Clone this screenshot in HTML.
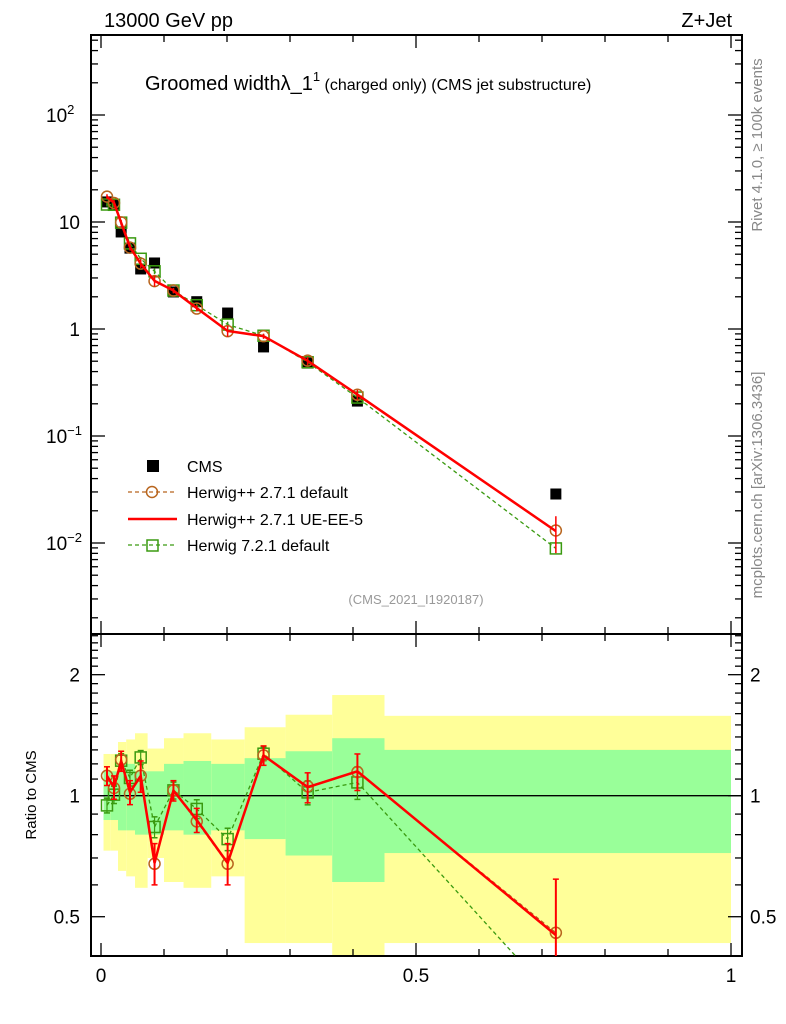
<!DOCTYPE html>
<html><head><meta charset="utf-8"><style>
body{margin:0;background:#fff;}
svg{display:block;font-family:"Liberation Sans",sans-serif;}
</style></head><body>
<svg id="chart" width="786" height="1024" viewBox="0 0 786 1024" xmlns="http://www.w3.org/2000/svg">
<g id="bands"></g>
<g id="axes"></g>
<g id="series"></g>
<text x="104" y="27" font-size="20">13000 GeV pp</text>
<text x="732" y="27" font-size="20" text-anchor="end">Z+Jet</text>
<text x="145" y="90" font-size="20">Groomed width<tspan>λ_1</tspan><tspan font-size="13" dy="-9">1</tspan><tspan font-size="16" dy="9"> (charged only) (CMS jet substructure)</tspan></text>
<text x="416" y="604" font-size="13" fill="#999" text-anchor="middle">(CMS_2021_I1920187)</text>
<text transform="translate(762,145) rotate(-90)" font-size="15" fill="#888" text-anchor="middle">Rivet 4.1.0, ≥ 100k events</text>
<text transform="translate(762,485) rotate(-90)" font-size="15" fill="#888" text-anchor="middle">mcplots.cern.ch [arXiv:1306.3436]</text>
<text transform="translate(36,795) rotate(-90)" font-size="15" text-anchor="middle">Ratio to CMS</text>
<g>
<rect x="147" y="460" width="12" height="12" fill="#000"/>
<text x="187" y="472" font-size="16">CMS</text>
<line x1="128" y1="492" x2="177" y2="492" stroke="#b8651e" stroke-width="1.3" stroke-dasharray="4,3"/>
<circle cx="152" cy="492" r="5.5" fill="none" stroke="#b8651e" stroke-width="1.5"/>
<text x="187" y="498" font-size="16">Herwig++ 2.7.1 default</text>
<line x1="128" y1="519" x2="177" y2="519" stroke="#f00" stroke-width="2.5"/>
<text x="187" y="525" font-size="16">Herwig++ 2.7.1 UE-EE-5</text>
<line x1="128" y1="545" x2="177" y2="545" stroke="#3a9a10" stroke-width="1.3" stroke-dasharray="4,3"/>
<rect x="147" y="540" width="11" height="11" fill="none" stroke="#3a9a10" stroke-width="1.5"/>
<text x="187" y="551" font-size="16">Herwig 7.2.1 default</text>
</g>
</svg>
<script>
const xVals=[0.0095,0.0206,0.032,0.046,0.063,0.085,0.115,0.152,0.201,0.258,0.328,0.407,0.722];
const cmsVals=[15.4,14.4,8.07,5.7,3.64,4.14,2.22,1.8,1.41,0.68,0.48,0.212,0.0287];
const ratioHppDefault=[1.121,1.045,1.229,1.011,1.121,0.677,1.031,0.863,0.677,1.26,1.055,1.145,0.456];
const ratioUEEE5=[1.12,1.05,1.22,1.02,1.12,0.68,1.03,0.87,0.68,1.26,1.05,1.15,0.45];
const ratioH7Default=[0.946,1.006,1.222,1.107,1.245,0.836,1.031,0.927,0.78,1.272,1.019,1.079,0.31];
const ratioErrUE=[0.06,0.07,0.07,0.07,0.1,0.08,0.06,0.06,0.08,0.07,0.09,0.12,0.17];
const ratioErrH7=[0.04,0.05,0.05,0.05,0.05,0.05,0.05,0.05,0.05,0.05,0.07,0.1,0.1];
const binEdges=[0.004,0.0155,0.027,0.04,0.054,0.074,0.1,0.131,0.175,0.228,0.293,0.367,0.45,1.0];
const yellowHi=[1.27,1.27,1.36,1.38,1.43,1.31,1.39,1.43,1.38,1.48,1.59,1.78,1.58];
const yellowLo=[0.73,0.73,0.65,0.63,0.59,0.70,0.61,0.59,0.63,0.43,0.43,0.39,0.43];
const greenHi=[1.15,1.15,1.20,1.20,1.15,1.15,1.20,1.22,1.20,1.24,1.29,1.39,1.30];
const greenLo=[0.87,0.87,0.82,0.82,0.80,0.80,0.82,0.80,0.82,0.78,0.71,0.61,0.72];

const NS="http://www.w3.org/2000/svg";
const L=91,R=742,T=35,MID=634,B=956;
const X=v=>101+v*630;
const Y=v=>329-107*Math.log10(v);
const RY=r=>795.7-402*Math.log10(r);
const cr=r=>Math.max(MID,Math.min(B,RY(r)));
function mk(parent,tag,attrs){const e=document.createElementNS(NS,tag);for(const k in attrs)e.setAttribute(k,attrs[k]);document.getElementById(parent).appendChild(e);return e;}

for(let i=0;i<yellowHi.length;i++){
  const x0=X(binEdges[i]),x1=X(binEdges[i+1]);
  const y=mk('bands','rect',{x:x0,y:cr(yellowHi[i]),width:x1-x0,height:cr(yellowLo[i])-cr(yellowHi[i]),fill:'#ffff99'});
  
  
  const g=mk('bands','rect',{x:x0,y:cr(greenHi[i]),width:x1-x0,height:cr(greenLo[i])-cr(greenHi[i]),fill:'#99ff99'});
  
  
}
const ax='axes';
let f1=mk(ax,'rect',{x:L,y:T,width:R-L,height:MID-T,fill:'none',stroke:'#000','stroke-width':2});


let f2=mk(ax,'rect',{x:L,y:MID,width:R-L,height:B-MID,fill:'none',stroke:'#000','stroke-width':2});


let one=mk(ax,'line',{x1:L,x2:R,y1:RY(1),y2:RY(1),stroke:'#000','stroke-width':1.3});


for(let k=0;k<=10;k++){
  const v=k/10,x=X(v),len=(k%5==0)?13:7;
  [[T,T+len],[MID,MID-len],[MID,MID+len],[B,B-len]].forEach(p=>mk(ax,'line',{x1:x,x2:x,y1:p[0],y2:p[1],stroke:'#000','stroke-width':1.3}));
}
['0','0.5','1'].forEach((s,i)=>{const t=mk(ax,'text',{x:X(i*0.5),y:982,'font-size':19,'text-anchor':'middle'});t.textContent=s;

});
for(let d=-3;d<=2;d++){for(let m=1;m<10;m++){const v=m*Math.pow(10,d),y=Y(v);if(y<T||y>MID)continue;const len=m==1?14:7;
mk(ax,'line',{x1:L,x2:L+len,y1:y,y2:y,stroke:'#000','stroke-width':1.3});mk(ax,'line',{x1:R,x2:R-len,y1:y,y2:y,stroke:'#000','stroke-width':1.3});}}
[[100,'10','2'],[10,'10',''],[1,'1',''],[0.1,'10','−1'],[0.01,'10','−2']].forEach(a=>{const t=mk(ax,'text',{x:80,y:Y(a[0])+7,'font-size':19,'text-anchor':'end'});


t.textContent=a[1];if(a[2]){const s=document.createElementNS(NS,'tspan');s.setAttribute('font-size',13);s.setAttribute('dy',-8);s.textContent=a[2];t.appendChild(s);t.setAttribute('text-anchor','start');t.setAttribute('x',46);}});
for(let k=4;k<=25;k++){const r=k/10;const y=RY(r);if(y<MID||y>B)continue;const len=(r==0.5||r==1||r==2)?14:7;
mk(ax,'line',{x1:L,x2:L+len,y1:y,y2:y,stroke:'#000','stroke-width':1.3});mk(ax,'line',{x1:R,x2:R-len,y1:y,y2:y,stroke:'#000','stroke-width':1.3});}
[['2',2],['1',1],['0.5',0.5]].forEach(a=>{[[80,'end'],[750,'start']].forEach(p=>{const t=mk(ax,'text',{x:p[0],y:RY(a[1])+7,'font-size':19,'text-anchor':p[1]});t.textContent=a[0];

});});

function series(name,vals,ratio,err,color,w,dash,marker){
  const pm=xVals.map((x,i)=>X(x)+','+Y(vals[i])).join(' ');
  const l1=mk('series','polyline',{points:pm,fill:'none',stroke:color,'stroke-width':w,'stroke-dasharray':dash||'none'});
  
  
  const pr=xVals.map((x,i)=>X(x)+','+RY(ratio[i])).join(' ');
  const l2=mk('series','polyline',{points:pr,fill:'none',stroke:color,'stroke-width':w,'stroke-dasharray':dash||'none','clip-path':'url(#rclip)'});
  
  
  xVals.forEach((x,i)=>{
    const px=X(x);
    if(err){
      const lo=ratio[i]-err[i],hi=ratio[i]+err[i];
      if(RY(ratio[i])<=B){
      const e=mk('series','line',{x1:px,x2:px,y1:cr(hi),y2:cr(lo),stroke:color,'stroke-width':w>2?2:1.2});
      
      
      [hi,lo].forEach(v=>{if(RY(v)>MID&&RY(v)<B)mk('series','line',{x1:px-3,x2:px+3,y1:RY(v),y2:RY(v),stroke:color,'stroke-width':1.5});});
      const me=mk('series','line',{x1:px,x2:px,y1:Y(vals[i]*hi/ratio[i]),y2:Y(vals[i]*lo/ratio[i]),stroke:color,'stroke-width':1.5});
      
      }
    }
    if(marker){
      [Y(vals[i]),RY(ratio[i])].forEach((y,j)=>{if(j==1&&(y<MID||y>B))return;
        let m;
        if(marker=='circle')m=mk('series','circle',{cx:px,cy:y,r:5.5,fill:'none',stroke:color,'stroke-width':1.5});
        else m=mk('series','rect',{x:px-5.5,y:y-5.5,width:11,height:11,fill:'none',stroke:color,'stroke-width':1.5});
        
        });
    }
  });
}
const defs=mk('series','clipPath',{id:'rclip'});
const cp=document.createElementNS(NS,'rect');cp.setAttribute('x',L);cp.setAttribute('y',MID);cp.setAttribute('width',R-L);cp.setAttribute('height',B-MID);defs.appendChild(cp);
xVals.forEach((x,i)=>{const s=mk('series','rect',{x:X(x)-5.5,y:Y(cmsVals[i])-5.5,width:11,height:11,fill:'#000'});

});
series('herwig7-default',cmsVals.map((c,i)=>c*ratioH7Default[i]),ratioH7Default,ratioErrH7,'#3a9a10',1.3,'4,3','square');
series('herwigpp-default',cmsVals.map((c,i)=>c*ratioHppDefault[i]),ratioHppDefault,null,'#b8651e',1.3,'4,3','circle');
series('herwigpp-ue-ee-5',cmsVals.map((c,i)=>c*ratioUEEE5[i]),ratioUEEE5,ratioErrUE,'#ff0000',2.5,null,null);
</script>
</body></html>
